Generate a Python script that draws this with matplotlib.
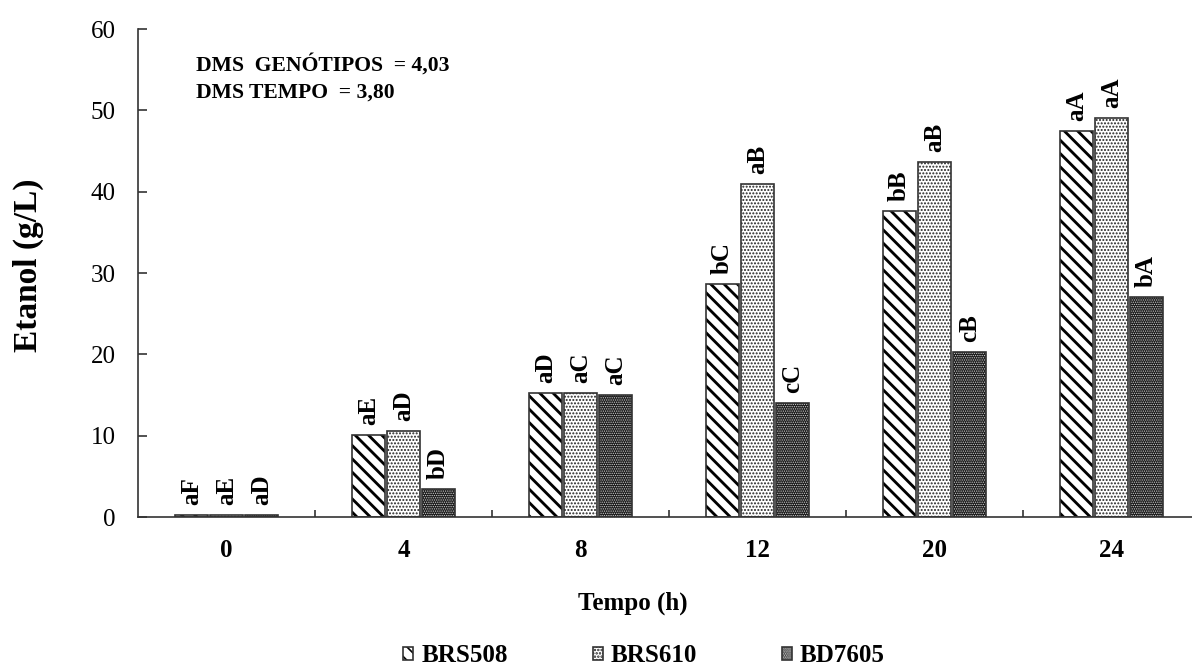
import matplotlib
matplotlib.use("Agg")
import matplotlib.pyplot as plt
import numpy as np

# Ethanol production (g/L) over fermentation time for three sorghum genotypes
tempos = ["0", "4", "8", "12", "20", "24"]
brs508 = [0.3, 10.1, 15.2, 28.6, 37.6, 47.4]
brs610 = [0.3, 10.6, 15.2, 40.9, 43.6, 49.1]
bd7605 = [0.3, 3.4, 15.0, 14.0, 20.3, 27.0]
letras_brs508 = ["aF", "aE", "aD", "bC", "bB", "aA"]
letras_brs610 = ["aE", "aD", "aC", "aB", "aB", "aA"]
letras_bd7605 = ["aD", "bD", "aC", "cC", "cB", "bA"]
genotipos = ["BRS508", "BRS610", "BD7605"]

plt.rcParams["font.family"] = ["Liberation Serif", "DejaVu Serif"]

DPI = 120
W, H = 1192, 668
fig = plt.figure(figsize=(W / DPI, H / DPI), dpi=DPI)
ax = fig.add_axes([138 / W, 1 - 517 / H, (W - 138) / W, (517 - 29) / H])

x = np.arange(len(tempos))
bar_w = 0.186
step = 0.198

BACKSLASH = chr(92)
# face colour, hatch pattern, hatch colour, hatch line width
estilos = [
    ("white", BACKSLASH * 3, "black", 1.7),
    ("white", "......", "#222222", 0.8),
    ("#1c1c1c", ".........", "#d0d0d0", 0.5),
]

valores = [brs508, brs610, bd7605]
letras = [letras_brs508, letras_brs610, letras_bd7605]
handles = []
for i, (vals, labs, (fc, hatch, hc, hlw)) in enumerate(zip(valores, letras, estilos)):
    pos = x + (i - 1) * step
    with plt.rc_context({"hatch.linewidth": hlw}):
        fill = ax.bar(pos, vals, width=bar_w, color=fc, edgecolor=hc,
                      hatch=hatch, linewidth=0, zorder=2)
        for p in fill:
            if hasattr(p, "set_hatch_linewidth"):
                p.set_hatch_linewidth(hlw)
    outline = ax.bar(pos, vals, width=bar_w, fill=False, edgecolor="#333333",
                     linewidth=1.0, zorder=3)
    handles.append((fill[0], outline[0]))
    for xi, v, lab in zip(pos, vals, labs):
        ax.annotate(lab, xy=(xi, v), xytext=(0, 6), textcoords="offset points",
                    rotation=90, ha="center", va="bottom",
                    fontsize=15, fontweight="bold")

ax.set_ylim(0, 60)
ax.set_xlim(-0.5, -0.5 + (W - 138) / 177.0)
ax.set_yticks(np.arange(0, 61, 10))
ax.set_xticks(x)
ax.set_xticklabels(tempos, fontsize=15, fontweight="bold")
ax.set_xticks(np.arange(0.5, len(tempos) - 0.5, 1.0), minor=True)
ax.tick_params(axis="y", direction="in", length=5.4, width=1.0,
               color="#333333", labelsize=15, pad=13.5)
ax.tick_params(axis="x", which="major", length=0, pad=13)
ax.tick_params(axis="x", which="minor", direction="in", length=4.2,
               width=1.0, color="#333333")

for side in ("top", "right"):
    ax.spines[side].set_visible(False)
for side in ("left", "bottom"):
    ax.spines[side].set_color("#333333")
    ax.spines[side].set_linewidth(1.0)

fig.text(28 / W, 1 - 265 / H, "Etanol (g/L)", rotation=90, ha="center",
         va="center", fontsize=20, fontweight="bold")
fig.text(633 / W, 1 - 603 / H, "Tempo (h)", ha="center", va="center",
         fontsize=15, fontweight="bold")

fig.text(196 / W, 1 - 65 / H, "DMS  GENÓTIPOS  = 4,03", ha="left",
         va="center", fontsize=13, fontweight="bold")
fig.text(196 / W, 1 - 93 / H, "DMS TEMPO  = 3,80", ha="left",
         va="center", fontsize=13, fontweight="bold")

fig.legend(handles, genotipos, loc="center", bbox_to_anchor=(644 / W, 1 - 656 / H),
           ncol=3, frameon=False, handlelength=0.4, handleheight=0.4,
           handletextpad=0.32, columnspacing=3.4, borderpad=0.2,
           prop={"size": 15, "weight": "bold"})

fig.savefig("out.png", dpi=DPI)
